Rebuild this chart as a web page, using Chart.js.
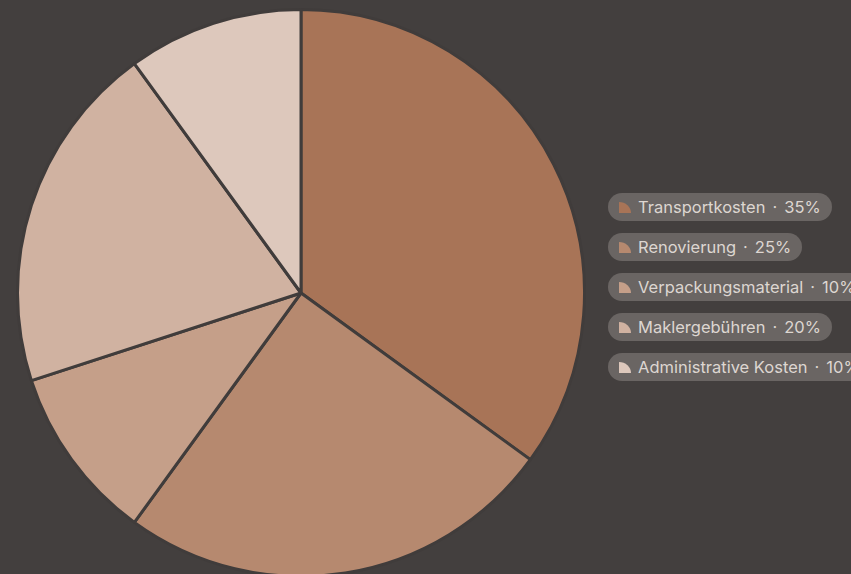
<!DOCTYPE html>
<html>
<head>
<meta charset="utf-8">
<script src="https://cdn.jsdelivr.net/npm/chart.js@4.4.1/dist/chart.umd.min.js"></script>
<style>
  html, body { margin: 0; padding: 0; background: #433f3e; width: 851px; height: 574px; overflow: hidden; font-family: Inter, "Noto Sans", sans-serif; }
  #wrap { position: absolute; left: 16px; top: 8px; width: 570px; height: 570px; }
  #legend { position: absolute; left: 608px; top: 193px; width: 300px; }
  .pill { display: inline-flex; align-items: center; height: 28px; padding: 0 11px 0 11px; border-radius: 14px; background: #6a6563; color: #ddd6d1; font-size: 16.5px; white-space: nowrap; }
  .pill i { display: inline-block; width: 12px; height: 11px; border-top-right-radius: 100%; margin-right: 7px; }
  .pill b { font-weight: normal; margin: 0 7px; }
  .row { height: 40px; }
</style>
</head>
<body>
<div id="wrap"><canvas id="pie"></canvas></div>
<div id="legend"></div>
<script>
// chart data
const labels = ['Transportkosten', 'Renovierung', 'Verpackungsmaterial', 'Maklergebühren', 'Administrative Kosten'];
const shares = [35, 25, 10, 20, 10];
const colors = ['#a87457', '#b6896f', '#c59f89', '#d0b2a1', '#ddc8bc'];

new Chart(document.getElementById('pie').getContext('2d'), {
    type: 'pie',
    data: {
        labels: labels,
        datasets: [{
            data: shares,
            backgroundColor: colors,
            borderColor: '#403c3b',
            borderWidth: 3
        }]
    },
    options: {
        responsive: true,
        maintainAspectRatio: false,
        animation: false,
        layout: { padding: 0 },
        plugins: { legend: { display: false }, tooltip: { enabled: false } }
    }
});

// html legend
const legend = document.getElementById('legend');
labels.forEach((l, i) => {
    const row = document.createElement('div');
    row.className = 'row';
    row.innerHTML = `<span class="pill"><i style="background:${colors[i]}"></i>${l}<b>·</b>${shares[i]}%</span>`;
    legend.appendChild(row);
});
</script>
</body>
</html>
